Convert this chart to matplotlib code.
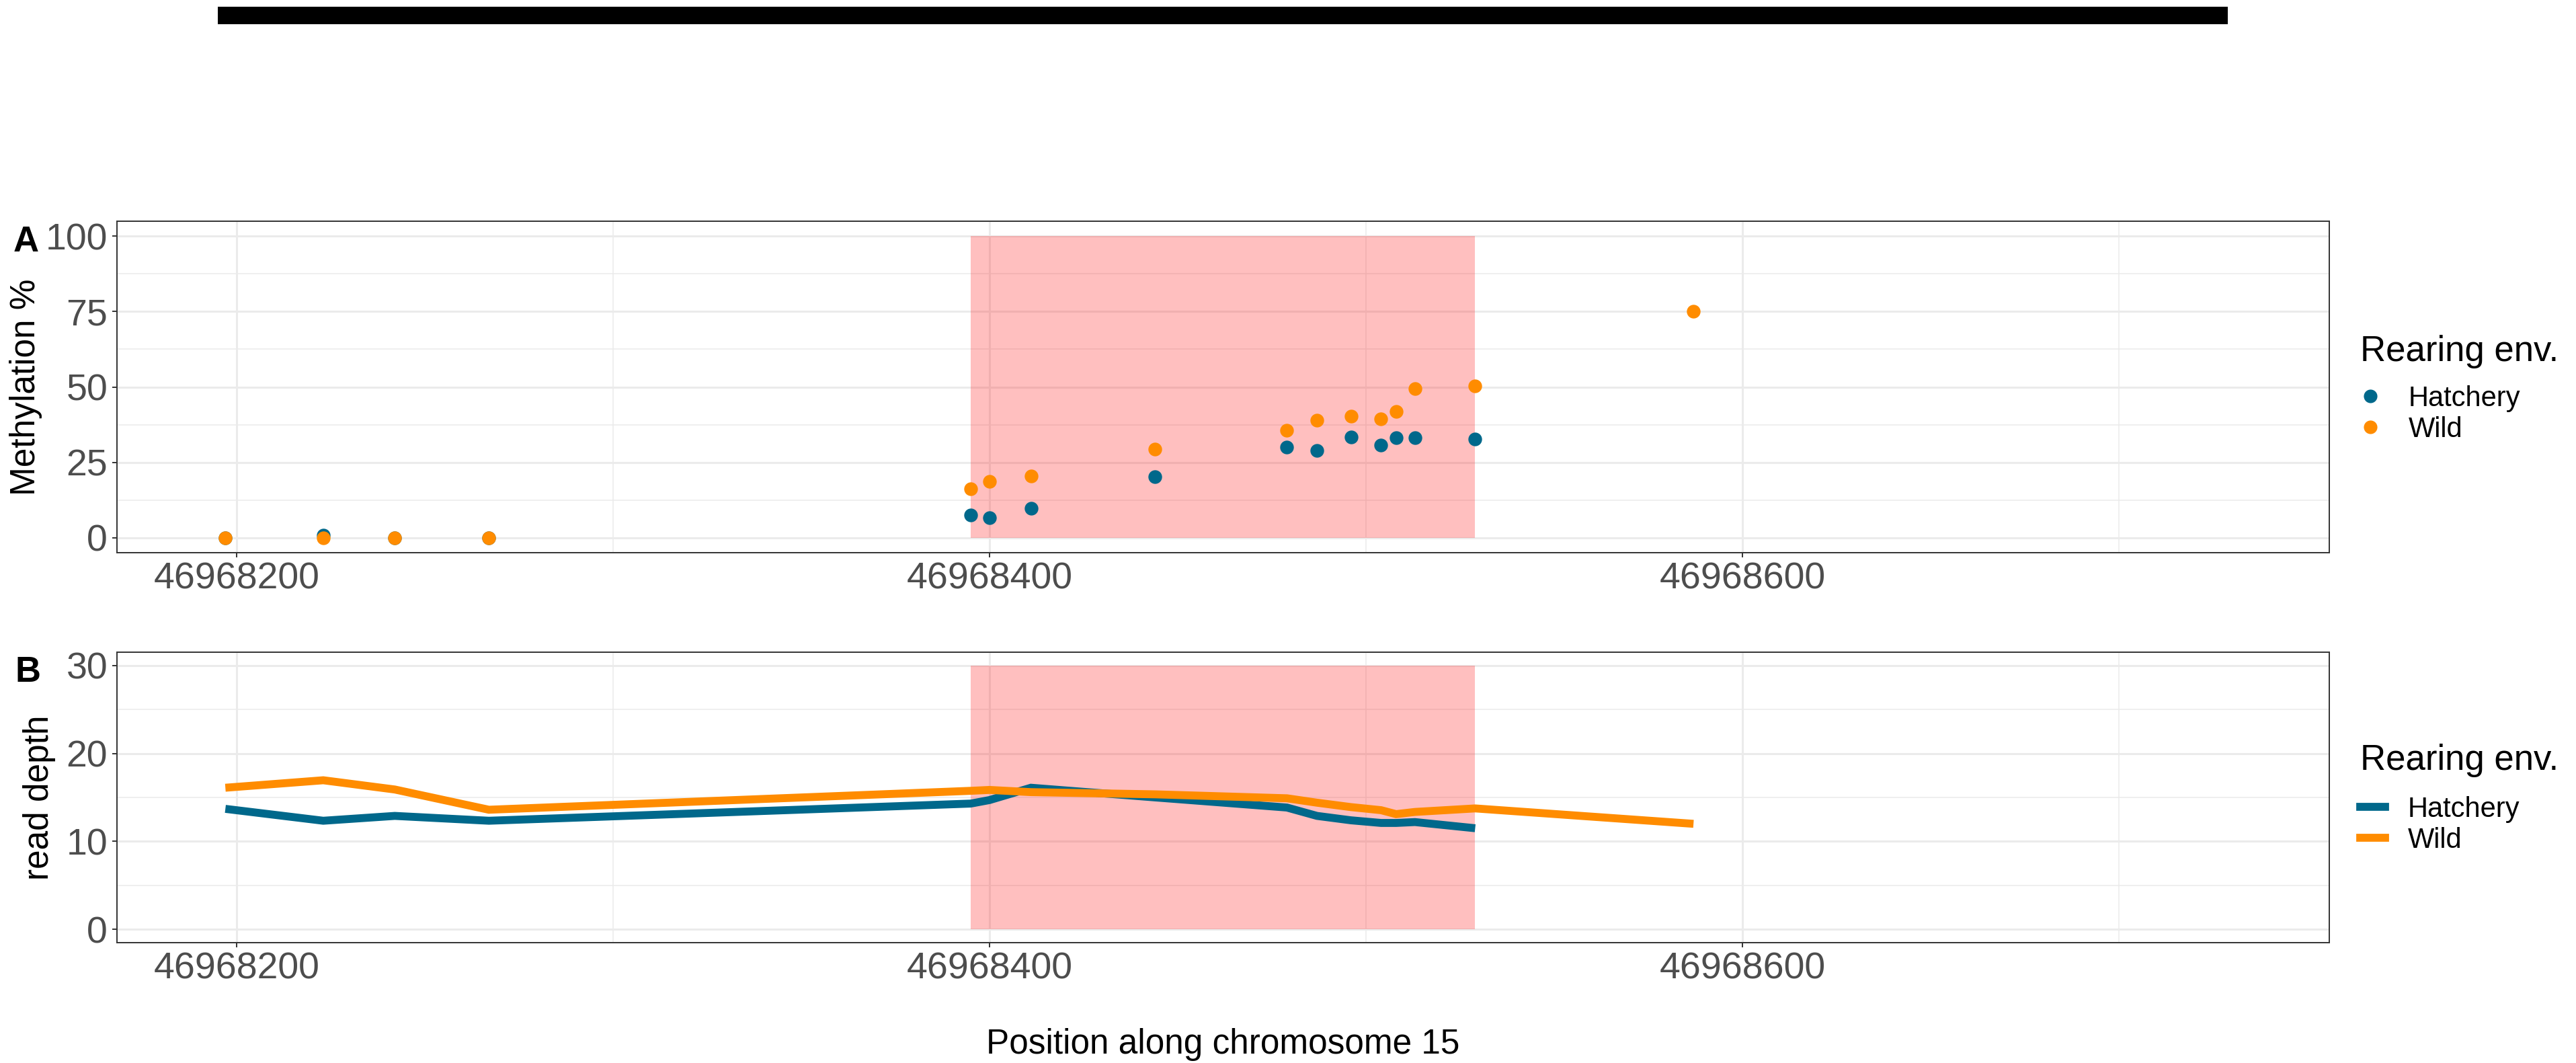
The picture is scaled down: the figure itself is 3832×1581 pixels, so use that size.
import matplotlib
matplotlib.use("Agg")
import matplotlib.pyplot as plt
from matplotlib.lines import Line2D

plt.rcParams['font.family'] = ['Liberation Sans', 'DejaVu Sans']

# CpG positions along chromosome 15
pos_hatchery = [46968197, 46968223, 46968242, 46968267, 46968395, 46968400, 46968411,
                46968444, 46968479, 46968487, 46968496, 46968504, 46968508, 46968513,
                46968529]
pos_wild = pos_hatchery + [46968587]

# methylation %
meth_hatchery = [0, 0.9, 0, 0, 7.6, 6.6, 9.7, 20.3, 30.1, 28.9, 33.3, 30.8, 33.1, 33.1, 32.6]
meth_wild = [0, 0, 0, 0, 16.3, 18.6, 20.4, 29.4, 35.5, 39.0, 40.3, 39.5, 41.9, 49.4, 50.4, 75.0]

# read depth
depth_hatchery = [13.7, 12.35, 12.9, 12.35, 14.3, 14.7, 16.1, 15.0, 13.85, 12.9, 12.4,
                  12.1, 12.1, 12.2, 11.5]
depth_wild = [16.1, 16.95, 15.9, 13.6, 15.75, 15.85, 15.6, 15.35, 14.9, 14.4, 13.9,
              13.55, 13.1, 13.35, 13.75, 12.0]

# highlighted region and gene bar
region = (46968395, 46968529)
gene = (46968195, 46968729)

groups = ['Hatchery', 'Wild']
colors = {'Hatchery': '#00688B', 'Wild': '#FF8C00'}

xlim = (46968168.2, 46968755.9)
W, H = 3832, 1581

fig = plt.figure(figsize=(W / 100, H / 100), dpi=100)

def fx(px):
    return px / W

def fy(py):
    return 1 - py / H

axA = fig.add_axes([fx(174), fy(822), fx(3465 - 174), (822 - 329) / H])
axB = fig.add_axes([fx(174), fy(1402), fx(3465 - 174), (1402 - 970) / H])
axG = fig.add_axes([fx(174), fy(36), fx(3465 - 174), 26 / H])

# gene bar on top
axG.axvspan(gene[0], gene[1], color='black', lw=0)
axG.set_xlim(xlim)
axG.axis('off')


def style(ax, yticks, yminor, ylim):
    ax.set_xlim(xlim)
    ax.set_ylim(ylim)
    ax.set_xticks([46968200, 46968400, 46968600])
    ax.set_xticklabels(['46968200', '46968400', '46968600'])
    ax.set_xticks([46968300, 46968500, 46968700], minor=True)
    ax.set_yticks(yticks)
    ax.set_yticks(yminor, minor=True)
    ax.grid(True, which='major', color='#EBEBEB', lw=2.2, zorder=0)
    ax.grid(True, which='minor', color='#EBEBEB', lw=1.1, zorder=0)
    ax.set_axisbelow(True)
    ax.tick_params(which='major', labelsize=40, labelcolor='#4D4D4D', color='#333333',
                   length=5, width=1.4, pad=5)
    ax.tick_params(which='minor', length=0)
    for s in ax.spines.values():
        s.set_color('#333333')
        s.set_linewidth(1.4)


# panel A: methylation
style(axA, [0, 25, 50, 75, 100], [12.5, 37.5, 62.5, 87.5], (-5, 105))
axA.fill_between(region, 0, 100, color='red', alpha=0.25, lw=0, zorder=1)
axA.scatter(pos_hatchery, meth_hatchery, s=215, color=colors['Hatchery'], lw=0, zorder=3)
axA.scatter(pos_wild, meth_wild, s=215, color=colors['Wild'], lw=0, zorder=4)
axA.set_ylabel('Methylation %', fontsize=37)
axA.yaxis.set_label_coords((63 - 174) / (3465 - 174), 0.5)

# panel B: read depth
style(axB, [0, 10, 20, 30], [5, 15, 25], (-1.5, 31.5))
axB.fill_between(region, 0, 30, color='red', alpha=0.25, lw=0, zorder=1)
axB.plot(pos_hatchery, depth_hatchery, color=colors['Hatchery'], lw=8.5, zorder=3,
         solid_joinstyle='miter', solid_capstyle='butt')
axB.plot(pos_wild, depth_wild, color=colors['Wild'], lw=8.5, zorder=4,
         solid_joinstyle='miter', solid_capstyle='butt')
axB.set_ylabel('read depth', fontsize=37)
axB.yaxis.set_label_coords((83 - 174) / (3465 - 174), 0.5)
axB.set_xlabel('Position along chromosome 15', fontsize=37, labelpad=44)

fig.text(fx(20), fy(335), 'A', fontsize=38, fontweight='bold', va='top', ha='left')
fig.text(fx(22), fy(975), 'B', fontsize=38, fontweight='bold', va='top', ha='left')

# legends
hA = [Line2D([], [], marker='o', ls='', markersize=14.5, color=colors[g], mew=0) for g in groups]
legA = axA.legend(hA, groups, title='Rearing env.', loc='upper left',
                  bbox_to_anchor=(fx(3490), fy(477)), bbox_transform=fig.transFigure,
                  frameon=False, fontsize=30, title_fontsize=38, borderpad=0,
                  handlelength=0.72, handletextpad=1.0, labelspacing=0.15)
legA._legend_box.align = 'left'
legA._legend_box.sep = 18

hB = [Line2D([], [], color=colors[g], lw=8.5) for g in groups]
legB = axB.legend(hB, groups, title='Rearing env.', loc='upper left',
                  bbox_to_anchor=(fx(3490), fy(1085)), bbox_transform=fig.transFigure,
                  frameon=False, fontsize=30, title_fontsize=38, borderpad=0,
                  handlelength=0.9, handletextpad=0.8, labelspacing=0.15)
legB._legend_box.align = 'left'
legB._legend_box.sep = 20

fig.savefig('out.png', dpi=100, facecolor='white')
